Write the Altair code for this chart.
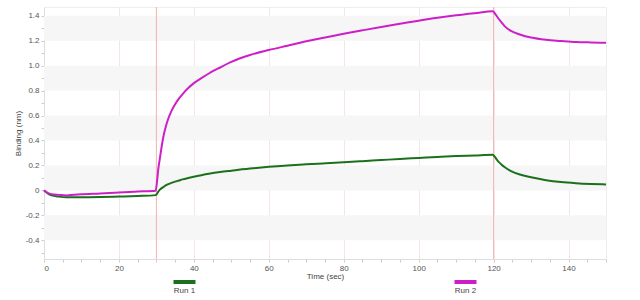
import altair as alt
import pandas as pd

# ---- data ----
times = [0, 1, 2, 4, 6, 8, 10, 15, 20, 25, 29.8, 30.2, 30.5, 31, 31.5, 32, 32.5, 33, 34,
         35, 36, 37, 38.5, 40, 42, 44, 47, 50, 55, 60, 65, 70, 75, 80, 85, 90, 95, 100,
         105, 110, 115, 119.8, 120.3, 121, 122, 123, 124.5, 127, 130, 134, 138, 142, 146, 150]
run1 = [0.0, -0.025, -0.04, -0.05, -0.055, -0.056, -0.056, -0.054, -0.05, -0.045, -0.038,
        -0.025, -0.01, 0.008, 0.02, 0.03, 0.04, 0.048, 0.06, 0.07, 0.079, 0.088, 0.1,
        0.11, 0.122, 0.133, 0.147, 0.158, 0.175, 0.189, 0.2, 0.209, 0.217, 0.225, 0.234,
        0.243, 0.252, 0.26, 0.268, 0.275, 0.28, 0.285, 0.27, 0.24, 0.21, 0.185, 0.157,
        0.127, 0.105, 0.082, 0.067, 0.058, 0.052, 0.048]
run2 = [0.0, -0.02, -0.03, -0.036, -0.04, -0.035, -0.031, -0.024, -0.016, -0.009, -0.003,
        0.08, 0.17, 0.27, 0.37, 0.45, 0.51, 0.56, 0.635, 0.69, 0.735, 0.772, 0.82, 0.86,
        0.9, 0.937, 0.985, 1.03, 1.085, 1.125, 1.16, 1.195, 1.225, 1.255, 1.283, 1.31,
        1.335, 1.36, 1.383, 1.403, 1.42, 1.435, 1.42, 1.39, 1.35, 1.315, 1.28, 1.25,
        1.225, 1.207, 1.198, 1.19, 1.186, 1.183]
series_names = ["Run 1", "Run 2"]
series_colors = ["#1c701c", "#cc1fc8"]
step_markers = [30, 120]          # association start / dissociation start (sec)
band_lows = [-0.4, 0.0, 0.4, 0.8, 1.2]   # shaded y bands (each 0.2 tall)

W, H = 562, 252

df = pd.DataFrame({
    "time": times * 2,
    "binding": run1 + run2,
    "series": [series_names[0]] * len(times) + [series_names[1]] * len(times),
})
bands = pd.DataFrame({"lo": band_lows, "hi": [round(b + 0.2, 1) for b in band_lows]})
marks = pd.DataFrame({"t": step_markers})
leg = pd.DataFrame({"series": series_names})

font = "Liberation Sans"
xvals = list(range(0, 151, 5))
yvals = [round(-0.5 + 0.1 * i, 1) for i in range(20)]

xscale = alt.Scale(domain=[0, 150], nice=False, zero=False)
yscale = alt.Scale(domain=[-0.55, 1.47], nice=False, zero=False)
color = alt.Color("series:N", scale=alt.Scale(domain=series_names, range=series_colors),
                  legend=None)

xaxis = alt.Axis(values=xvals,
                 labelExpr="datum.value % 20 === 0 ? datum.label : ''",
                 labelOverlap=False,
                 grid=True, gridColor="#f3e6e6",
                 gridOpacity={"condition": {"test": "datum.value % 20 === 0", "value": 1}, "value": 0},
                 tickSize=3, labelPadding=2, titlePadding=0,
                 domainColor="#dddddd", tickColor="#cccccc",
                 labelColor="#555555", titleColor="#444444",
                 labelFontSize=8, titleFontSize=8, titleFontWeight="normal",
                 labelFont=font, titleFont=font)
yaxis = alt.Axis(values=yvals,
                 labelExpr="abs(round(datum.value*10)) % 2 === 0 ? (abs(datum.value) < 0.001 ? '0' : (datum.value < 0 ? '-' : '') + format(abs(datum.value), '.1f')) : ''",
                 labelOverlap=False,
                 grid=False, tickSize=3, labelPadding=2, titlePadding=3,
                 domainColor="#dddddd", tickColor="#cccccc",
                 labelColor="#555555", titleColor="#444444",
                 labelFontSize=8, titleFontSize=8, titleFontWeight="normal",
                 labelFont=font, titleFont=font)

band_layer = alt.Chart(bands).mark_rect(color="#f6f6f6").encode(
    y=alt.Y("lo:Q", scale=yscale, axis=yaxis, title="Binding (nm)"),
    y2="hi:Q",
)

rules = alt.Chart(marks).mark_rule(color="#f2aaa2", strokeWidth=0.9).encode(
    x=alt.X("t:Q", scale=xscale, axis=xaxis, title="Time (sec)"),
)

lines = alt.Chart(df).mark_line(strokeWidth=2, interpolate="monotone").encode(
    x=alt.X("time:Q", scale=xscale, axis=xaxis, title="Time (sec)"),
    y=alt.Y("binding:Q", scale=yscale, axis=yaxis, title="Binding (nm)"),
    color=color,
    order=alt.Order("time:Q"),
)

main = alt.layer(band_layer, rules, lines)

leg_x = alt.X("series:N", scale=alt.Scale(type="point", domain=series_names, padding=0.5),
              axis=None)
leg_sym = alt.Chart(leg).mark_point(shape="M-1,0L1,0", size=484, strokeWidth=4,
                                    filled=False, opacity=1).encode(
    x=leg_x, y=alt.value(275), color=color)
leg_txt = alt.Chart(leg).mark_text(fontSize=8, font=font, color="#444444",
                                   baseline="middle").encode(
    x=leg_x, y=alt.value(284), text="series:N")
legend = alt.layer(leg_sym, leg_txt)

chart = alt.layer(main, legend).resolve_scale(
    x="independent"
).properties(
    width=W, height=H,
    autosize=alt.AutoSizeParams(type="none"),
    padding={"left": 44, "top": 7, "right": 34, "bottom": 41},
).configure_view(stroke="#eeeeee")

chart.save("out.html", embed_options={"renderer": "svg", "actions": False})
